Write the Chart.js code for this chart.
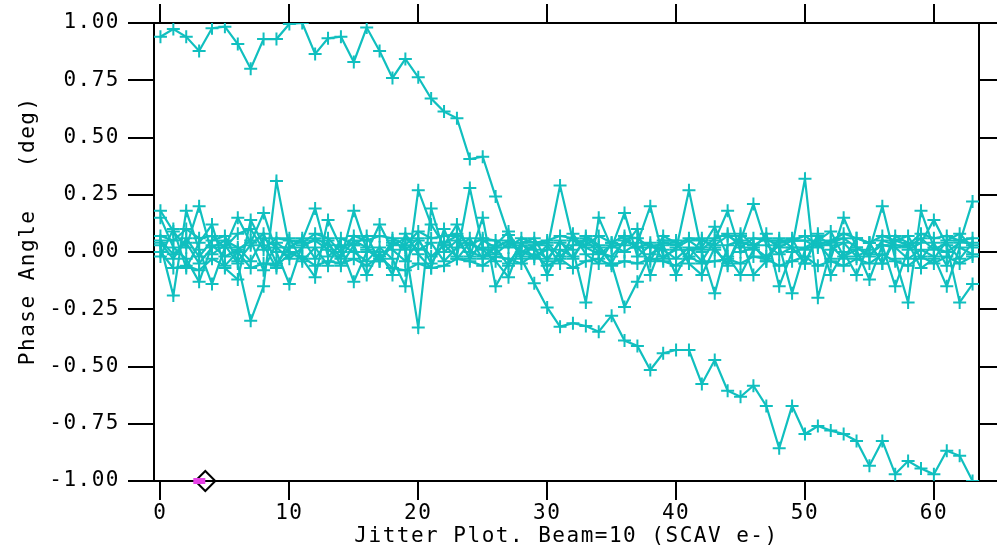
<!DOCTYPE html>
<html>
<head>
<meta charset="utf-8">
<script src="https://cdn.jsdelivr.net/npm/chart.js@4.4.1/dist/chart.umd.min.js"></script>
<style>
html,body{margin:0;padding:0;background:#fff;}
canvas{display:block;}
</style>
</head>
<body>
<canvas id="c" width="997" height="550"></canvas>
<script>
// ---- data ----
const pulses = Array.from({length: 64}, (_, i) => i);
const xTickValues = [0, 10, 20, 30, 40, 50, 60];
const yTickValues = [-1, -0.75, -0.5, -0.25, 0, 0.25, 0.5, 0.75, 1];

const drift = [0.94,0.974,0.94,0.878,0.977,0.984,0.908,0.80,0.93,0.93,
 0.996,1.0,0.865,0.933,0.94,0.83,0.98,0.878,0.76,0.843,
 0.763,0.67,0.613,0.584,0.406,0.416,0.242,0.074,-0.03,-0.137,
 -0.242,-0.326,-0.311,-0.323,-0.348,-0.278,-0.387,-0.41,-0.515,-0.442,
 -0.428,-0.428,-0.576,-0.472,-0.606,-0.632,-0.584,-0.672,-0.857,-0.672,
 -0.795,-0.76,-0.78,-0.795,-0.825,-0.933,-0.825,-0.97,-0.913,-0.945,
 -0.971,-0.868,-0.89,-1.0];

const jitter1 = [0.18,0.09,0.02,0.20,-0.01,0.03,-0.05,-0.30,-0.15,0.31,
 0.02,0.05,0.19,-0.02,0.03,0.00,-0.04,0.02,-0.03,-0.15,
 0.27,0.12,0.03,-0.02,0.28,0.02,-0.01,0.04,0.00,-0.02,
 0.01,0.29,0.05,0.02,-0.01,0.03,0.00,0.04,0.20,-0.02,
 0.01,0.27,0.00,-0.18,0.03,0.05,0.21,0.03,-0.01,0.02,
 0.32,-0.20,0.01,0.04,-0.02,0.01,0.20,-0.03,-0.22,0.18,
 0.02,0.00,0.04,0.22];
const jitter2 = [0.03,-0.19,0.18,0.01,-0.14,0.02,0.15,0.04,0.17,0.00,
 -0.14,0.03,0.05,0.01,-0.03,0.18,0.01,-0.03,0.04,0.02,
 -0.33,0.19,0.00,0.05,-0.02,0.15,-0.15,-0.05,0.03,0.01,
 -0.03,0.04,0.01,-0.22,0.15,0.02,0.17,-0.02,0.03,0.01,
 -0.03,0.02,-0.04,0.05,0.18,0.00,0.02,-0.02,0.03,-0.18,
 0.01,0.04,-0.03,0.15,0.02,-0.01,0.03,-0.15,0.01,0.04,
 0.14,0.03,-0.22,-0.14];
const jitter3 = [0.15,0.02,-0.03,-0.13,0.03,-0.02,0.01,0.05,-0.08,0.04,
 0.00,-0.03,-0.11,0.14,0.02,-0.13,0.00,0.12,0.01,-0.04,
 0.05,-0.02,0.03,0.12,0.00,-0.02,0.03,0.09,-0.02,0.03,
 -0.10,0.01,-0.02,0.06,0.02,-0.05,-0.24,-0.13,-0.01,0.03,
 -0.10,0.01,0.02,0.11,-0.02,-0.10,0.01,0.08,-0.15,0.00,
 0.02,0.05,0.09,-0.02,0.01,-0.12,0.03,0.02,-0.03,0.01,
 -0.02,-0.15,0.02,-0.01];
const jitter4 = [-0.02,0.10,-0.07,0.04,0.12,-0.07,-0.12,0.14,0.03,-0.07,
 0.06,-0.04,0.02,-0.06,0.06,0.03,-0.10,0.00,-0.10,0.08,
 -0.01,-0.07,0.10,-0.03,0.04,0.01,-0.04,-0.11,0.04,-0.03,
 0.03,-0.05,0.08,-0.01,-0.05,0.04,0.03,0.10,-0.10,0.05,
 0.05,-0.05,-0.10,0.02,-0.06,0.07,-0.10,-0.04,0.04,0.06,
 -0.05,0.08,-0.10,0.00,-0.10,0.04,-0.05,0.07,0.04,-0.07,
 -0.03,0.05,0.08,0.02];
const jitter5 = [0.05,-0.01,0.04,-0.05,0.02,0.05,0.02,-0.04,0.06,0.02,
 -0.03,0.02,0.06,0.03,-0.02,0.05,0.02,-0.04,0.03,0.06,
 0.01,0.04,-0.04,0.02,0.06,-0.03,0.02,0.05,0.00,0.03,
 0.04,-0.02,0.03,0.05,0.00,-0.02,0.05,0.02,0.04,-0.03,
 0.02,0.05,0.01,0.06,0.08,0.02,0.06,0.05,0.05,0.05,
 0.05,0.02,0.04,0.06,0.02,-0.02,0.05,0.03,0.02,0.06,
 0.01,0.04,-0.03,0.04];
const jitter6 = [0.00,-0.07,-0.06,-0.08,-0.03,-0.06,0.00,-0.07,-0.05,-0.06,
 -0.01,-0.02,-0.06,-0.04,-0.05,-0.03,-0.06,-0.02,-0.07,-0.08,
 -0.05,-0.07,-0.06,-0.03,-0.04,-0.06,-0.02,-0.03,-0.05,-0.01,
 -0.06,-0.03,-0.07,-0.04,-0.03,-0.06,-0.04,-0.05,-0.03,-0.04,
 -0.06,-0.02,-0.05,-0.04,-0.03,-0.05,-0.02,-0.03,-0.06,-0.04,
 -0.02,-0.06,-0.04,-0.06,-0.03,-0.05,-0.01,-0.04,-0.06,-0.02,
 -0.05,-0.02,-0.05,-0.02];
const jitter7 = [0.04,-0.03,0.06,-0.02,0.05,0.07,-0.04,0.03,0.08,-0.05,
 0.02,0.06,-0.03,0.05,-0.06,0.03,0.07,-0.04,0.05,0.01,
 0.06,-0.05,0.04,0.07,-0.03,0.05,0.02,-0.06,0.04,0.06,
 -0.04,0.05,-0.03,0.07,0.03,-0.05,0.06,0.02,-0.04,0.07,
 0.04,-0.03,0.06,0.01,-0.05,0.08,0.03,-0.04,0.06,0.02,
 -0.05,0.07,0.03,-0.03,0.06,0.04,-0.05,0.05,0.07,-0.03,
 0.04,-0.06,0.05,0.03];
const jitter8 = [0.07,0.05,0.10,0.06,0.07,0.02,0.08,0.10,0.01,0.06,
 0.05,0.04,0.08,0.06,0.00,0.07,0.05,0.07,0.06,0.03,
 0.09,0.06,0.07,0.08,0.03,0.06,0.05,0.02,0.06,0.04,
 0.05,0.07,0.06,0.03,0.07,0.04,0.07,0.06,0.02,0.04,
 0.03,0.06,0.05,0.03,0.07,0.04,0.03,0.06,0.02,0.05,
 0.07,0.03,0.05,0.08,0.06,0.04,0.07,0.05,0.03,0.08,
 0.06,0.07,0.05,0.06];

const markerBarX = [2.55, 3.48];
const markerBarY = [-1, -1];
const diamondX = [3.48];
const diamondY = [-1];

const xTitle = 'Jitter Plot. Beam=10 (SCAV e-)';
const yTitle = '   Phase Angle   (deg)';

// ---- chart ----
const TEAL = '#10bfbf';
const FONT = "'DejaVu Sans Mono', 'Liberation Mono', monospace";
Chart.defaults.font.family = FONT;
Chart.defaults.color = '#000';

const series = [jitter1, jitter2, jitter3, jitter4, jitter5, jitter6, jitter7, jitter8, drift];
function toPts(xs, ys) { return xs.map((x, i) => ({x: x, y: ys[i]})); }

const datasets = series.map(s => ({
  data: toPts(pulses, s),
  borderColor: TEAL,
  backgroundColor: TEAL,
  borderWidth: 2.2,
  pointStyle: 'cross',
  pointRadius: 6.5,
  pointBorderWidth: 2,
  pointBorderColor: TEAL,
  pointHoverRadius: 6.5,
  showLine: true,
  tension: 0,
  fill: false
}));
datasets.push({
  data: toPts(markerBarX, markerBarY),
  showLine: true,
  borderColor: '#e640e6',
  borderWidth: 6,
  pointRadius: 0,
  clip: false
});
datasets.push({
  data: toPts(diamondX, diamondY),
  showLine: false,
  pointStyle: 'rectRot',
  pointRadius: 10,
  pointBorderWidth: 2,
  pointBorderColor: '#000',
  pointBackgroundColor: 'rgba(0,0,0,0)',
  clip: false
});

const LS = '1.5px';
const spacing = {
  id: 'spacing',
  beforeUpdate(c) { c.ctx.letterSpacing = LS; },
  beforeLayout(c) { c.ctx.letterSpacing = LS; },
  beforeDraw(c) { c.ctx.letterSpacing = LS; }
};

const gridCommon = {
  drawOnChartArea: false,
  drawTicks: true,
  color: '#000',
  tickColor: '#000',
  tickWidth: 2,
  lineWidth: 2
};
const borderCommon = {display: true, color: '#000', width: 2};

new Chart(document.getElementById('c'), {
  type: 'scatter',
  data: {datasets: datasets},
  plugins: [spacing],
  options: {
    responsive: false,
    animation: false,
    events: [],
    layout: {padding: {top: 4, right: 0, left: 0, bottom: 0}},
    plugins: {legend: {display: false}, tooltip: {enabled: false}},
    scales: {
      x: {
        type: 'linear', position: 'bottom', min: -0.5, max: 63.5,
        afterBuildTicks: s => { s.ticks = xTickValues.map(v => ({value: v})); },
        afterFit: s => { s.height = 69; },
        grid: Object.assign({}, gridCommon, {tickLength: 19}),
        border: borderCommon,
        ticks: {font: {size: 21}, padding: 1, maxRotation: 0, autoSkip: false,
                callback: v => String(v)},
        title: {display: true, text: xTitle, font: {size: 21}, padding: {top: 0, bottom: 1}}
      },
      x2: {
        type: 'linear', position: 'top', min: -0.5, max: 63.5,
        afterBuildTicks: s => { s.ticks = xTickValues.map(v => ({value: v})); },
        afterFit: s => { s.height = 19; },
        grid: Object.assign({}, gridCommon, {tickLength: 19}),
        border: borderCommon,
        ticks: {display: false}
      },
      y: {
        type: 'linear', position: 'left', min: -1, max: 1,
        afterBuildTicks: s => { s.ticks = yTickValues.map(v => ({value: v})); },
        afterFit: s => { s.width = 154; },
        grid: Object.assign({}, gridCommon, {tickLength: 26}),
        border: borderCommon,
        ticks: {font: {size: 21}, padding: 8, autoSkip: false,
                callback: v => Number(v).toFixed(2)},
        title: {display: true, text: yTitle, font: {size: 21}, padding: {top: 16, bottom: 0}}
      },
      y2: {
        type: 'linear', position: 'right', min: -1, max: 1,
        afterBuildTicks: s => { s.ticks = yTickValues.map(v => ({value: v})); },
        afterFit: s => { s.width = 18; },
        grid: Object.assign({}, gridCommon, {tickLength: 20}),
        border: borderCommon,
        ticks: {display: false}
      }
    }
  }
});
</script>
</body>
</html>
